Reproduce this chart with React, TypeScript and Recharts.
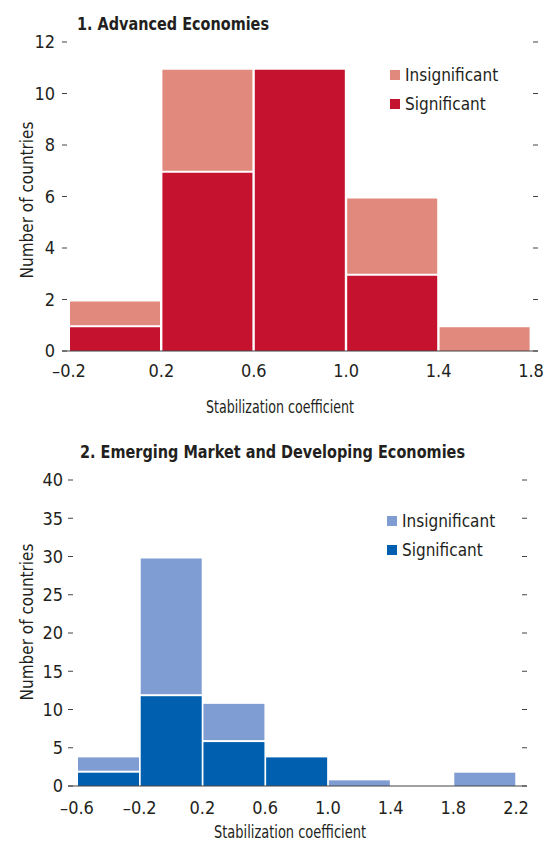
import React from "react";
import { BarChart, Bar, XAxis, YAxis, Legend } from "recharts";

// ---------- data ----------
// bin midpoints of the stabilization coefficient (bins 0.4 wide)
const adBinMid = [0.0, 0.4, 0.8, 1.2, 1.6];
const adSignificant = [1, 7, 11, 3, 0];
const adInsignificant = [1, 4, 0, 3, 1];
const adXTicks = [-0.2, 0.2, 0.6, 1.0, 1.4, 1.8];
const adYTicks = [0, 2, 4, 6, 8, 10, 12];

const emBinMid = [-0.4, 0.0, 0.4, 0.8, 1.2, 1.6, 2.0];
const emSignificant = [2, 12, 6, 4, 0, 0, 0];
const emInsignificant = [2, 18, 5, 0, 1, 0, 2];
const emXTicks = [-0.6, -0.2, 0.2, 0.6, 1.0, 1.4, 1.8, 2.2];
const emYTicks = [0, 5, 10, 15, 20, 25, 30, 35, 40];

const titles = ["1. Advanced Economies", "2. Emerging Market and Developing Economies"];
const xLabel = "Stabilization coefficient";
const yLabel = "Number of countries";
const legendOrder = ["Insignificant", "Significant"];

// ---------- styles ----------
const FONT = '"Liberation Sans Narrow", "Arial Narrow", "DejaVu Sans Condensed", sans-serif';
const TEXT = "#231f20";
const AXIS = "#444";

const fmtX = (v: number) => (v < -1e-9 ? "\u2013" : "") + Math.abs(v).toFixed(1);

const BarShape = (props: any) => {
  const { x, y, width, height, fill } = props;
  if (!height || height <= 0 || !width) return null;
  return <rect x={x + 1} y={y + 2} width={Math.max(0, width - 2)} height={Math.max(0, height - 2)} fill={fill} />;
};

const makeYTick = (left: number, right: number, labelGap: number) => (props: any) => {
  const { y, payload } = props;
  return (
    <g>
      <line x1={left} x2={left + 5} y1={y} y2={y} stroke={AXIS} strokeWidth={1} />
      <line x1={right - 5} x2={right} y1={y} y2={y} stroke={AXIS} strokeWidth={1} />
      <text x={left - labelGap} y={y} dy="0.36em" textAnchor="end" fill={TEXT} fontSize={18} fontFamily={FONT}>
        {payload.value}
      </text>
    </g>
  );
};

const LegendContent = (props: any) => {
  const items = [...(props.payload || [])].sort(
    (a: any, b: any) => legendOrder.indexOf(a.value) - legendOrder.indexOf(b.value)
  );
  return (
    <div style={{ fontFamily: FONT, fontSize: 17, color: TEXT }}>
      {items.map((p: any) => (
        <div key={p.value} style={{ display: "flex", alignItems: "center", height: 29 }}>
          <span style={{ display: "inline-block", width: 10, height: 10, background: p.color, marginRight: 5 }} />
          <span>{p.value}</span>
        </div>
      ))}
    </div>
  );
};

type PanelProps = {
  mids: number[];
  sig: number[];
  insig: number[];
  xTicks: number[];
  yTicks: number[];
  sigColor: string;
  insigColor: string;
  width: number;
  height: number;
  margin: { top: number; right: number; bottom: number; left: number };
  yAxisWidth: number;
  xPad: { left: number; right: number };
  tickMargin: number;
  labelGap: number;
  legendPos: { left: number; top: number };
};

const Panel = (p: PanelProps) => {
  const data = p.mids.map((m, i) => ({ mid: m, Significant: p.sig[i], Insignificant: p.insig[i] }));
  const plotLeft = p.margin.left + p.yAxisWidth;
  const plotRight = p.width - p.margin.right;
  return (
    <BarChart width={p.width} height={p.height} data={data} margin={p.margin} barCategoryGap={0} barGap={0}>
      <XAxis
        dataKey="mid"
        type="number"
        domain={[p.xTicks[0], p.xTicks[p.xTicks.length - 1]]}
        allowDataOverflow
        ticks={p.xTicks}
        tickFormatter={fmtX}
        padding={p.xPad}
        height={40}
        tickLine={false}
        tickSize={0}
        tickMargin={p.tickMargin}
        axisLine={{ stroke: AXIS, strokeWidth: 1.2 }}
        tick={{ fill: TEXT, fontSize: 18, fontFamily: FONT }}
        interval={0}
      />
      <YAxis
        domain={[0, p.yTicks[p.yTicks.length - 1]]}
        ticks={p.yTicks}
        width={p.yAxisWidth}
        axisLine={false}
        tickLine={false}
        interval={0}
        tick={makeYTick(plotLeft, plotRight, p.labelGap)}
      />
      <Legend
        layout="horizontal"
        verticalAlign="middle"
        align="center"
        content={<LegendContent />}
        wrapperStyle={{ left: p.legendPos.left, top: p.legendPos.top, width: "auto", height: "auto" }}
      />
      <Bar dataKey="Significant" stackId="a" fill={p.sigColor} shape={BarShape} isAnimationActive={false} />
      <Bar dataKey="Insignificant" stackId="a" fill={p.insigColor} shape={BarShape} isAnimationActive={false} />
    </BarChart>
  );
};

export default function App() {
  return (
    <div style={{ position: "absolute", left: 0, top: 0, width: 548, height: 844, background: "#fff", fontFamily: FONT }}>
      <div style={{ position: "absolute", left: 0, top: 0 }}>
        <Panel
          mids={adBinMid}
          sig={adSignificant}
          insig={adInsignificant}
          xTicks={adXTicks}
          yTicks={adYTicks}
          sigColor="#c4122f"
          insigColor="#e0897c"
          width={548}
          height={420}
          margin={{ top: 42, right: 10, bottom: 29, left: 0 }}
          yAxisWidth={62}
          xPad={{ left: 7, right: 7 }}
          tickMargin={13}
          labelGap={7}
          legendPos={{ left: 390, top: 60 }}
        />
      </div>
      <div style={{ position: "absolute", left: 0, top: 430 }}>
        <Panel
          mids={emBinMid}
          sig={emSignificant}
          insig={emInsignificant}
          xTicks={emXTicks}
          yTicks={emYTicks}
          sigColor="#0060af"
          insigColor="#7f9dd3"
          width={548}
          height={414}
          margin={{ top: 50, right: 21, bottom: 18, left: 0 }}
          yAxisWidth={68}
          xPad={{ left: 9, right: 11 }}
          tickMargin={15}
          labelGap={5}
          legendPos={{ left: 387, top: 76 }}
        />
      </div>
      <svg width={548} height={844} style={{ position: "absolute", left: 0, top: 0, pointerEvents: "none" }}>
        <text x={77} y={30} fontFamily={FONT} fontWeight="bold" fontSize={18} fill={TEXT} textLength={192} lengthAdjust="spacingAndGlyphs">{titles[0]}</text>
        <text x={80} y={458} fontFamily={FONT} fontWeight="bold" fontSize={18} fill={TEXT} textLength={385} lengthAdjust="spacingAndGlyphs">{titles[1]}</text>
        <text x={206} y={413} fontFamily={FONT} fontSize={18} fill={TEXT} textLength={148} lengthAdjust="spacingAndGlyphs">{xLabel}</text>
        <text x={214} y={838} fontFamily={FONT} fontSize={18} fill={TEXT} textLength={152} lengthAdjust="spacingAndGlyphs">{xLabel}</text>
        <text transform="translate(33,200) rotate(-90)" textAnchor="middle" fontFamily={FONT} fontSize={17} fill={TEXT}>{yLabel}</text>
        <text transform="translate(33,622) rotate(-90)" textAnchor="middle" fontFamily={FONT} fontSize={17} fill={TEXT}>{yLabel}</text>
      </svg>
    </div>
  );
}
